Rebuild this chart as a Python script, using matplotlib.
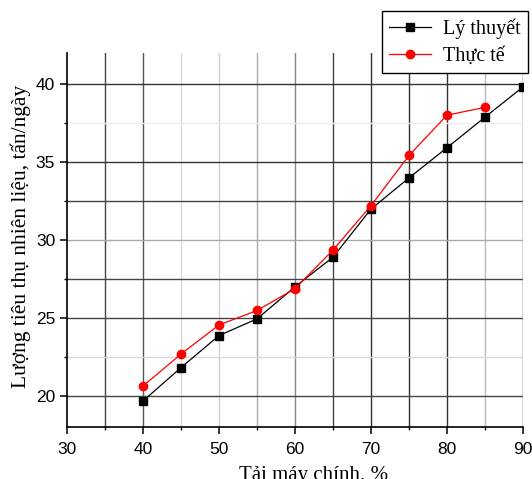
import numpy as np
import matplotlib
matplotlib.use("Agg")
import matplotlib.pyplot as plt
from matplotlib.ticker import MultipleLocator

# ── dữ liệu ───────────────────────────────────────────────
tai = [40, 45, 50, 55, 60, 65, 70, 75, 80, 85, 90]          # %
ly_thuyet = [19.67, 21.81, 23.87, 24.94, 27.0, 28.9, 31.99, 33.99, 35.93, 37.89, 39.83]
tai_tt = [40, 45, 50, 55, 60, 65, 70, 75, 80, 85]
thuc_te = [20.63, 22.68, 24.55, 25.48, 26.88, 29.36, 32.21, 35.43, 38.02, 38.52]

SERIF = ["Liberation Serif", "DejaVu Serif"]
SANS = ["Liberation Sans", "DejaVu Sans"]

fig = plt.figure(figsize=(5.32, 4.79), dpi=100)
ax = fig.add_axes([0.126, 0.1086, 0.857, 0.7804])

ax.set_xlim(30, 90)
ax.set_ylim(18, 42)

# lưới: độ đậm khác nhau như ảnh gốc
xgrid = {35: "#444444", 40: "#555555", 45: "#d8d8d8", 50: "#d0d0d0", 55: "#aaaaaa",
         60: "#888888", 65: "#444444", 70: "#333333", 75: "#333333", 80: "#333333",
         85: "#bbbbbb", 90: "#333333"}
ygrid = {20: "#444444", 22.5: "#d8d8d8", 25: "#444444", 27.5: "#444444", 30: "#aaaaaa",
         32.5: "#444444", 35: "#333333", 37.5: "#eeeeee", 40: "#333333"}
for xv, c in xgrid.items():
    ax.axvline(xv, color=c, lw=1.0, zorder=0)
for yv, c in ygrid.items():
    ax.axhline(yv, color=c, lw=1.0, zorder=0)

ax.plot(tai, ly_thuyet, color="black", lw=0.9, marker="s", ms=5.5,
        label="Lý thuyết", zorder=3)
ax.plot(tai_tt, thuc_te, color="red", lw=0.9, marker="o", ms=6,
        label="Thực tế", zorder=4)

ax.xaxis.set_major_locator(MultipleLocator(10))
ax.xaxis.set_minor_locator(MultipleLocator(5))
ax.yaxis.set_major_locator(MultipleLocator(5))
ax.yaxis.set_minor_locator(MultipleLocator(2.5))
ax.tick_params(which="major", direction="out", length=5, width=1.1, labelsize=12.5)
ax.tick_params(axis="x", which="major", pad=6)
ax.tick_params(which="minor", direction="out", length=2.5, width=1.0)
for lbl in ax.get_xticklabels() + ax.get_yticklabels():
    lbl.set_family(SANS)

for s in ["top", "right"]:
    ax.spines[s].set_visible(False)
for s in ["left", "bottom"]:
    ax.spines[s].set_linewidth(1.2)

ax.set_xlabel("Tải máy chính, %", family=SERIF, fontsize=15)
ax.xaxis.set_label_coords(0.54, -0.105)
ax.set_ylabel("Lượng tiêu thụ nhiên liệu, tấn/ngày", family=SERIF, fontsize=15.5)
ax.yaxis.set_label_coords(-0.08, 0.51)

leg = fig.legend(loc="upper right", bbox_to_anchor=(0.992, 0.977), borderaxespad=0,
                 prop={"family": SERIF, "size": 14.5}, fancybox=False, framealpha=1,
                 edgecolor="black", handlelength=2.1, borderpad=0.35, labelspacing=0.4,
                 handletextpad=0.6)
leg.get_frame().set_linewidth(1.0)

fig.savefig("out.png", dpi=100)
